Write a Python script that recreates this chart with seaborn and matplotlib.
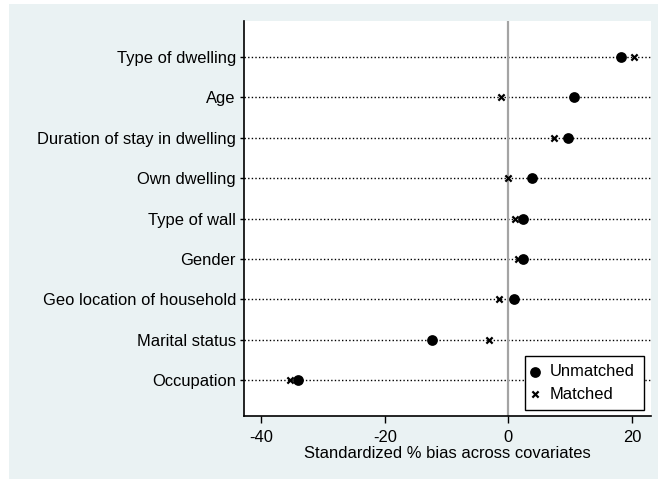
import matplotlib
matplotlib.use("Agg")
import matplotlib.pyplot as plt
import matplotlib.patches as mpatches
import numpy as np
import pandas as pd
import seaborn as sns

# Covariates, listed top to bottom
covariates = [
    "Type of dwelling",
    "Age",
    "Duration of stay in dwelling",
    "Own dwelling",
    "Type of wall",
    "Gender",
    "Geo location of household",
    "Marital status",
    "Occupation",
]
# Standardized % bias before and after matching
bias_unmatched = [18.2, 10.6, 9.6, 3.8, 2.4, 2.4, 0.9, -12.3, -34.0]
bias_matched = [20.3, -1.2, 7.4, -0.1, 1.1, 1.5, -1.6, -3.2, -35.3]
x_ticks = [-40, -20, 0, 20]

df_u = pd.DataFrame({"covariate": covariates, "bias": bias_unmatched})
df_m = pd.DataFrame({"covariate": covariates, "bias": bias_matched})

sns.set_theme(style="white")
plt.rcParams["font.family"] = ["Liberation Sans", "DejaVu Sans"]
plt.rcParams["font.size"] = 11.9
for key in ["text.color", "axes.labelcolor", "xtick.color", "ytick.color"]:
    plt.rcParams[key] = "black"

W, H = 661, 479
fig = plt.figure(figsize=(W / 100, H / 100), dpi=100, facecolor="white")

# graph region background
bg = mpatches.Rectangle((9 / W, 0), (658 - 9) / W, (479 - 4) / H,
                        transform=fig.transFigure, facecolor="#eaf2f3",
                        edgecolor="none", zorder=-10)
fig.patches.append(bg)

ax = fig.add_axes([244.3 / W, (H - 416) / H, (650.7 - 244.3) / W, (416 - 21) / H])
ax.set_zorder(1)
ax.set_facecolor("white")

# dotted guide line for each covariate
ypos = np.arange(len(covariates))
for y in ypos:
    ax.axhline(y, color="black", linestyle=(0, (1, 1.6)), linewidth=1.0, zorder=1)

# reference line at zero bias
ax.axvline(0, color="#a4a4a4", linewidth=1.6, zorder=1.5)

sns.scatterplot(data=df_u, x="bias", y="covariate", ax=ax, marker="o", s=60,
                color="black", edgecolor="black", linewidth=0, label="Unmatched", zorder=3)
sns.scatterplot(data=df_m, x="bias", y="covariate", ax=ax, marker="x", s=20,
                color="black", linewidth=1.6, label="Matched", zorder=3)

ax.set_xlim(-42.7, 23.0)
ax.set_ylim(len(covariates) - 1 + 0.89, -0.89)
ax.set_xticks(x_ticks)
ax.set_xticklabels([str(t) for t in x_ticks])
ax.set_yticks(ypos)
ax.set_yticklabels(covariates)
ax.set_ylabel("")
ax.set_xlabel("Standardized % bias across covariates", fontsize=11.9, labelpad=1)

for side in ["top", "right"]:
    ax.spines[side].set_visible(False)
for side in ["left", "bottom"]:
    ax.spines[side].set_color("black")
    ax.spines[side].set_linewidth(1.2)

ax.tick_params(axis="x", which="major", direction="out", length=5, width=1,
               color="black", pad=5, labelsize=11.9, bottom=True)
ax.tick_params(axis="y", which="major", direction="out", length=3, width=1,
               color="black", pad=3, labelsize=11.9, left=True)

leg = ax.legend(loc="lower left", bbox_to_anchor=(0.6907, 0.0152, 0.2936, 0.14),
                mode="expand", borderaxespad=0, frameon=True, fancybox=False,
                fontsize=11.9, handletextpad=0.8, handlelength=0.2, borderpad=0.5,
                labelspacing=0.45, edgecolor="black", facecolor="white", framealpha=1)
leg.get_frame().set_linewidth(1.0)

fig.savefig("out.png", dpi=100, facecolor=fig.get_facecolor())
